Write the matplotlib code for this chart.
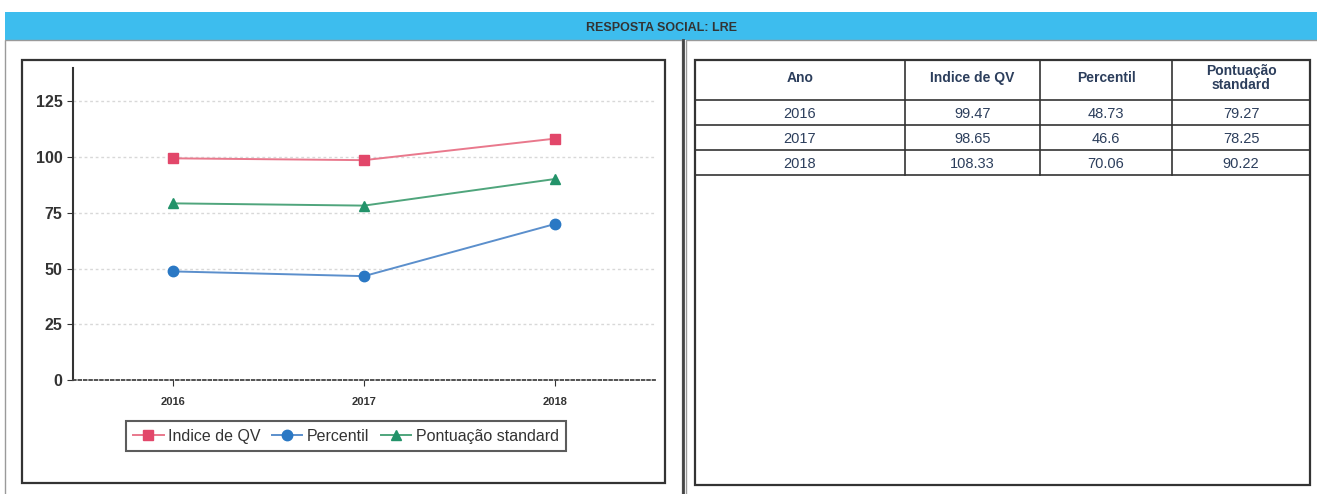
import matplotlib
matplotlib.use('Agg')
import matplotlib.pyplot as plt
from matplotlib.patches import Rectangle

plt.rcParams['font.family'] = ['Liberation Sans', 'DejaVu Sans']

anos = ['2016', '2017', '2018']
indice_qv = [99.47, 98.65, 108.33]
percentil = [48.73, 46.6, 70.06]
pontuacao = [79.27, 78.25, 90.22]

series_labels = ['Indice de QV', 'Percentil', 'Pontuação standard']
table_header = ['Ano', 'Indice de QV', 'Percentil', 'Pontuação\nstandard']
titulo = 'RESPOSTA SOCIAL: LRE'

W, H = 1317, 494
fig = plt.figure(figsize=(W / 100, H / 100), dpi=100)
fig.patch.set_facecolor('white')

# background axes in pixel coordinates for the frames and the table
bg = fig.add_axes([0, 0, 1, 1])
bg.set_xlim(0, W)
bg.set_ylim(H, 0)
bg.axis('off')

# header bar
bg.add_patch(Rectangle((5, 12), W - 5, 28, facecolor='#3dbdee', edgecolor='none'))
bg.text(661, 28, titulo, ha='center', va='center', fontsize=9,
        fontweight='bold', color='#333333')

# outer panels
bg.add_patch(Rectangle((5, 40), 677, 460, facecolor='white', edgecolor='#9a9a9a', lw=1))
bg.add_patch(Rectangle((686, 40), 640, 460, facecolor='white', edgecolor='#9a9a9a', lw=1))
bg.plot([683, 683], [40, 494], color='#444444', lw=2)

# inner boxes
bg.add_patch(Rectangle((22, 60), 643, 423, facecolor='white', edgecolor='#333333', lw=1.6))
bg.add_patch(Rectangle((695, 60), 615, 425, facecolor='white', edgecolor='#333333', lw=1.6))

# table
col_x = [695, 905, 1040, 1172, 1310]
row_y = [60, 100, 125, 150, 175]
txt_col = '#2c3e5c'
for y in row_y[1:]:
    bg.plot([col_x[0], col_x[-1]], [y, y], color='#333333', lw=1.2)
for x in col_x[1:-1]:
    bg.plot([x, x], [row_y[0], row_y[-1]], color='#333333', lw=1.2)

for j, h in enumerate(table_header):
    cx = (col_x[j] + col_x[j + 1]) / 2
    cy = (row_y[0] + row_y[1]) / 2 - 2
    bg.text(cx, cy, h, ha='center', va='center', fontsize=10, fontweight='bold',
            color=txt_col, linespacing=0.95)

rows = list(zip(anos, indice_qv, percentil, pontuacao))
for i, r in enumerate(rows):
    cy = (row_y[i + 1] + row_y[i + 2]) / 2 + 1
    for j, v in enumerate(r):
        cx = (col_x[j] + col_x[j + 1]) / 2
        s = v if isinstance(v, str) else ('%g' % v)
        bg.text(cx, cy, s, ha='center', va='center', fontsize=10.5, color=txt_col)

# line chart
ax_l, ax_r, ax_t, ax_b = 73, 655, 68, 380
ax = fig.add_axes([ax_l / W, 1 - ax_b / H, (ax_r - ax_l) / W, (ax_b - ax_t) / H])
ax.set_facecolor('white')

xs = range(len(anos))
ax.plot(xs, indice_qv, color='#e9788c', lw=1.4, marker='s', ms=7.5,
        mfc='#e2476a', mec='#e2476a', label=series_labels[0], zorder=3)
ax.plot(xs, percentil, color='#5b8fcc', lw=1.4, marker='o', ms=7.5,
        mfc='#2a78c4', mec='#2a78c4', label=series_labels[1], zorder=3)
ax.plot(xs, pontuacao, color='#4fa57c', lw=1.4, marker='^', ms=7.5,
        mfc='#23936a', mec='#23936a', label=series_labels[2], zorder=3)

ax.set_xlim(-0.52, 2.52)
ax.set_ylim(0, 140)
ax.set_yticks([0, 25, 50, 75, 100, 125])
ax.set_xticks(list(xs))
ax.set_xticklabels(anos)
ax.tick_params(axis='y', labelsize=11.5, length=4, color='#333333', labelcolor='#333333')
ax.tick_params(axis='x', labelsize=8, length=4, color='#333333', labelcolor='#333333', pad=8)
for t in ax.get_yticklabels() + ax.get_xticklabels():
    t.set_fontweight('bold')

for v in [25, 50, 75, 100, 125]:
    ax.axhline(v, color='#d8d8d8', lw=1, ls=(0, (2, 2)), zorder=1)

for s in ['top', 'right']:
    ax.spines[s].set_visible(False)
ax.spines['left'].set_color('#333333')
ax.spines['left'].set_linewidth(1.5)
ax.spines['bottom'].set_color('#444444')
ax.spines['bottom'].set_linewidth(1.3)
ax.spines['bottom'].set_linestyle((0, (1.5, 1.5)))

leg = ax.legend(loc='center', bbox_to_anchor=((346 - ax_l) / (ax_r - ax_l), -(436 - ax_b) / (ax_b - ax_t)),
                ncol=3, fontsize=11.5, frameon=True, fancybox=False, handlelength=1.9,
                handletextpad=0.3, columnspacing=0.7, borderpad=0.45, markerscale=1.0)
leg.get_frame().set_edgecolor('#333333')
leg.get_frame().set_linewidth(1.5)
for t in leg.get_texts():
    t.set_color('#333333')

fig.savefig('out.png', dpi=100)
